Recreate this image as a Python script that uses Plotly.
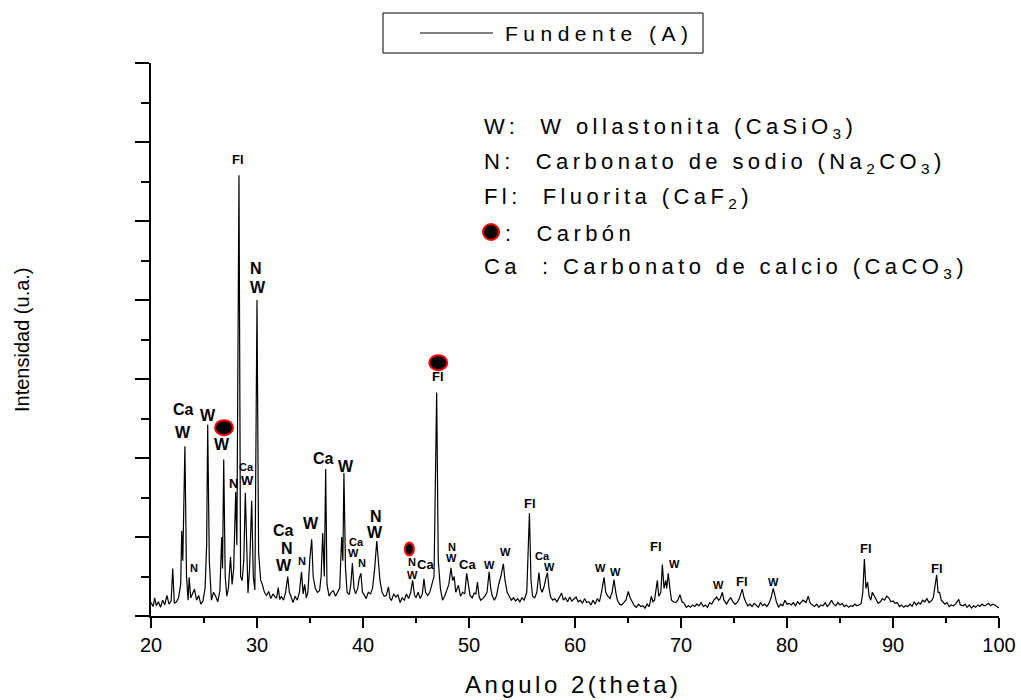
import plotly.graph_objects as go

# ---------------- data ----------------
series_name = "Fundente (A)"

two_theta = [
    20.0, 20.2, 20.35, 20.5, 20.7, 20.9, 21.1, 21.3, 21.5, 21.7, 21.9, 22.05, 22.2, 22.4, 22.6, 22.8,
    22.9, 23.0, 23.2, 23.35, 23.5, 23.6, 23.75, 23.9, 24.1, 24.3, 24.5, 24.7, 24.9, 25.1, 25.25, 25.35,
    25.5, 25.7, 25.9, 26.1, 26.3, 26.5, 26.67, 26.75, 26.86, 27.0, 27.15, 27.3, 27.5, 27.65, 27.8, 27.99,
    28.1, 28.3, 28.45, 28.6, 28.75, 28.9, 29.05, 29.15, 29.3, 29.5, 29.65, 29.8, 30.0, 30.15, 30.35, 30.5,
    30.7, 30.9, 31.1, 31.3, 31.5, 31.7, 31.85, 32.0, 32.15, 32.3, 32.5, 32.7, 32.9, 33.05, 33.2, 33.4,
    33.6, 33.8, 34.0, 34.2, 34.35, 34.5, 34.65, 34.8, 35.0, 35.16, 35.3, 35.5, 35.7, 35.9, 36.05, 36.2,
    36.35, 36.48, 36.6, 36.8, 37.0, 37.2, 37.4, 37.6, 37.8, 37.99, 38.1, 38.2, 38.35, 38.5, 38.7, 38.85,
    39.0, 39.15, 39.3, 39.5, 39.65, 39.8, 39.95, 40.1, 40.3, 40.5, 40.7, 40.9, 41.1, 41.3, 41.45, 41.6,
    41.8, 42.0, 42.2, 42.4, 42.55, 42.7, 42.9, 43.1, 43.3, 43.5, 43.7, 43.9, 44.1, 44.3, 44.5, 44.68,
    44.85, 45.0, 45.2, 45.4, 45.6, 45.75, 45.9, 46.1, 46.3, 46.45, 46.57, 46.7, 46.95, 47.1, 47.3, 47.5,
    47.7, 47.9, 48.1, 48.3, 48.45, 48.6, 48.75, 49.0, 49.2, 49.4, 49.6, 49.78, 49.95, 50.1, 50.3, 50.5,
    50.65, 50.8, 50.95, 51.1, 51.3, 51.5, 51.7, 51.9, 52.05, 52.2, 52.4, 52.6, 52.8, 53.0, 53.24, 53.4,
    53.6, 53.8, 54.0, 54.2, 54.4, 54.6, 54.8, 55.0, 55.2, 55.45, 55.7, 55.85, 56.0, 56.2, 56.4, 56.6,
    56.75, 56.9, 57.1, 57.25, 57.4, 57.55, 57.7, 57.9, 58.1, 58.3, 58.5, 58.74, 58.9, 59.1, 59.3, 59.5,
    59.7, 59.9, 60.1, 60.3, 60.5, 60.7, 60.9, 61.1, 61.3, 61.5, 61.7, 61.9, 62.1, 62.3, 62.5, 62.74,
    62.9, 63.1, 63.3, 63.5, 63.68, 63.85, 64.0, 64.2, 64.4, 64.6, 64.8, 65.03, 65.2, 65.4, 65.6, 65.8,
    66.0, 66.2, 66.4, 66.6, 66.8, 67.0, 67.2, 67.35, 67.5, 67.77, 67.9, 68.1, 68.24, 68.4, 68.56, 68.65,
    68.8, 68.95, 69.1, 69.3, 69.5, 69.7, 69.9, 70.1, 70.3, 70.5, 70.7, 70.9, 71.1, 71.3, 71.5, 71.7,
    71.9, 72.1, 72.3, 72.5, 72.7, 72.9, 73.1, 73.37, 73.55, 73.7, 73.9, 74.05, 74.3, 74.5, 74.7, 74.9,
    75.1, 75.3, 75.5, 75.78, 75.95, 76.1, 76.3, 76.5, 76.7, 76.9, 77.1, 77.3, 77.5, 77.7, 77.9, 78.1,
    78.3, 78.5, 78.7, 78.85, 79.0, 79.2, 79.4, 79.6, 79.8, 80.0, 80.2, 80.4, 80.6, 80.8, 81.0, 81.2,
    81.5, 81.8, 82.0, 82.2, 82.4, 82.6, 82.8, 83.0, 83.2, 83.4, 83.6, 83.8, 84.0, 84.2, 84.4, 84.6,
    84.8, 85.0, 85.2, 85.4, 85.6, 85.8, 86.0, 86.2, 86.4, 86.6, 86.8, 87.0, 87.15, 87.3, 87.45, 87.6,
    87.75, 87.9, 88.05, 88.2, 88.4, 88.6, 88.8, 89.0, 89.2, 89.4, 89.6, 89.8, 90.0, 90.2, 90.4, 90.6,
    90.8, 91.0, 91.2, 91.4, 91.6, 91.8, 92.0, 92.2, 92.4, 92.6, 92.8, 93.0, 93.2, 93.4, 93.6, 93.8,
    94.12, 94.25, 94.4, 94.55, 94.7, 94.9, 95.1, 95.3, 95.5, 95.7, 95.9, 96.2, 96.35, 96.6, 96.8, 97.0,
    97.2, 97.4, 97.6, 97.8, 98.0, 98.2, 98.4, 98.6, 98.8, 99.0, 99.2, 99.4, 99.6, 99.8, 100.0,
]

intensity = [
    170, 120, 230, 130, 180, 110, 200, 140, 260, 150, 190, 600, 160, 180, 230, 400,
    1080, 700, 2150, 500, 200, 490, 230, 280, 340, 200, 260, 150, 190, 350, 900, 2420,
    700, 200, 300, 250, 180, 320, 1000, 600, 1980, 500, 250, 350, 750, 400, 600, 1570,
    900, 5580, 500, 450, 700, 1560, 700, 290, 600, 1460, 500, 330, 4000, 800, 450, 400,
    300, 260, 310, 220, 280, 240, 230, 360, 210, 250, 200, 300, 500, 300, 250, 170,
    250, 200, 300, 560, 280, 400, 230, 300, 750, 970, 500, 350, 300, 320, 500, 1050,
    500, 1860, 400, 250, 300, 320, 250, 300, 350, 1000, 700, 1810, 600, 300, 270, 400,
    670, 350, 280, 350, 480, 540, 300, 270, 220, 300, 280, 350, 600, 950, 700, 450,
    300, 250, 260, 370, 220, 200, 280, 240, 270, 170, 230, 200, 280, 220, 300, 450,
    270, 230, 300, 220, 280, 470, 300, 260, 300, 380, 450, 500, 2830, 700, 350, 200,
    250, 320, 400, 610, 450, 500, 300, 390, 250, 300, 280, 540, 350, 260, 230, 290,
    280, 430, 250, 200, 220, 250, 300, 560, 350, 250, 200, 260, 400, 500, 660, 450,
    300, 250, 200, 230, 190, 220, 180, 230, 200, 300, 1300, 450, 250, 230, 300, 550,
    350, 300, 380, 480, 550, 350, 240, 200, 220, 180, 240, 290, 200, 230, 180, 240,
    190, 210, 240, 180, 200, 160, 220, 170, 180, 140, 200, 150, 220, 180, 300, 490,
    300, 250, 220, 300, 460, 300, 200, 150, 140, 170, 200, 310, 230, 180, 130, 110,
    150, 120, 130, 100, 150, 120, 250, 180, 200, 450, 250, 300, 650, 350, 450, 350,
    540, 350, 200, 180, 170, 200, 270, 180, 160, 110, 130, 110, 140, 120, 150, 130,
    170, 120, 140, 110, 170, 150, 200, 240, 200, 220, 300, 200, 150, 200, 230, 180,
    150, 170, 220, 340, 230, 180, 130, 150, 120, 160, 130, 110, 170, 130, 150, 120,
    160, 230, 350, 250, 180, 110, 150, 130, 200, 150, 160, 140, 170, 130, 180, 150,
    200, 170, 250, 160, 140, 120, 150, 110, 140, 130, 170, 120, 150, 200, 150, 130,
    170, 140, 160, 120, 140, 110, 130, 120, 150, 130, 140, 160, 300, 720, 350, 430,
    250, 200, 300, 260, 200, 160, 180, 220, 200, 250, 230, 180, 190, 160, 170, 120,
    140, 110, 130, 120, 150, 120, 180, 140, 170, 150, 200, 180, 220, 170, 190, 230,
    520, 300, 300, 200, 180, 150, 170, 120, 140, 130, 150, 210, 140, 130, 150, 110,
    140, 100, 130, 110, 140, 120, 150, 130, 140, 160, 130, 150, 140, 120, 100,
]

x_major_ticks = [20, 30, 40, 50, 60, 70, 80, 90, 100]
x_minor_ticks = [25, 35, 45, 55, 65, 75, 85, 95]

# phase labels placed over the peaks: (text, 2theta, intensity)
peak_labels_big = [
    ("Ca", 23.1, 2608), ("W", 23.0, 2317), ("W", 25.4, 2532), ("W", 26.67, 2165),
    ("N", 29.9, 4402), ("W", 30.09, 4161), ("Ca", 32.48, 1080), ("N", 32.8, 857),
    ("W", 32.55, 633), ("W", 35.07, 1173), ("Ca", 36.26, 1991), ("W", 38.4, 1890),
    ("N", 41.2, 1257), ("W", 41.16, 1060),
]
peak_labels_mid = [
    ("Fl", 28.24, 5773), ("N", 27.8, 1675), ("W", 29.09, 1713), ("Fl", 47.05, 3030),
    ("Fl", 55.75, 1418), ("Fl", 67.64, 877), ("Fl", 75.78, 443), ("Fl", 87.45, 857),
    ("Fl", 94.12, 604), ("Ca", 45.94, 654), ("Ca", 49.84, 646),
]
peak_labels_small = [
    ("N", 24.06, 612), ("Ca", 29.03, 1890), ("N", 34.2, 696), ("Ca", 39.4, 941),
    ("W", 39.15, 802), ("N", 39.88, 667), ("N", 44.6, 688), ("W", 44.66, 519),
    ("N", 48.37, 877), ("W", 48.37, 730), ("W", 51.92, 646), ("W", 53.49, 806),
    ("Ca", 56.89, 763), ("W", 57.58, 624), ("W", 62.42, 612), ("W", 63.84, 561),
    ("W", 69.43, 654), ("W", 73.52, 392), ("W", 78.71, 426),
]
carbon_marks = [(26.89, 2384, 18, 15), (47.1, 3207, 18, 15), (44.37, 848, 9, 13)]

phase_key = [
    "W:  W ollastonita (CaSiO<sub>3</sub>)",
    "N:  Carbonato de sodio (Na<sub>2</sub>CO<sub>3</sub>)",
    "Fl:  Fluorita (CaF<sub>2</sub>)",
    "  :  Carbón",
    "Ca  : Carbonato de calcio (CaCO<sub>3</sub>)",
]

x_title = "Angulo 2(theta)"
y_title = "Intensidad (u.a.)"

# ---------------- figure ----------------
FONT = "Arial, 'Liberation Sans', sans-serif"
W, H = 1021, 700
L, R, T, B = 151, 22, 63, 84
PW, PH = W - L - R, H - T - B


def px_to_paper_x(px):
    return (px - L) / PW


def px_to_paper_y(py):
    return (H - B - py) / PH


def spaced(text, sp):
    return f'<span style="letter-spacing:{sp}px">{text}</span>'


fig = go.Figure()
fig.add_trace(go.Scatter(
    x=two_theta, y=intensity, mode="lines",
    line=dict(color="black", width=1.2),
    name=series_name, showlegend=False,
))

annotations = []
for txt, xv, yv in peak_labels_big:
    annotations.append(dict(x=xv, y=yv, xref="x", yref="y", text=f"<b>{txt}</b>",
                            showarrow=False, font=dict(family=FONT, size=16, color="black")))
for txt, xv, yv in peak_labels_mid:
    annotations.append(dict(x=xv, y=yv, xref="x", yref="y", text=f"<b>{txt}</b>",
                            showarrow=False, font=dict(family=FONT, size=13, color="black")))
for txt, xv, yv in peak_labels_small:
    annotations.append(dict(x=xv, y=yv, xref="x", yref="y", text=f"<b>{txt}</b>",
                            showarrow=False, font=dict(family=FONT, size=11, color="black")))

key_y = [128, 163, 198, 234, 268]
for txt, py in zip(phase_key, key_y):
    annotations.append(dict(x=px_to_paper_x(482), y=px_to_paper_y(py), xref="paper", yref="paper",
                            xanchor="left", yanchor="middle", text=spaced(txt, 4.4),
                            showarrow=False, font=dict(family=FONT, size=22, color="black")))

# legend box (drawn by hand to match the reference proportions)
annotations.append(dict(x=px_to_paper_x(503), y=px_to_paper_y(33), xref="paper", yref="paper",
                        xanchor="left", yanchor="middle", text=spaced(series_name, 5.5),
                        showarrow=False, font=dict(family=FONT, size=21, color="black")))

annotations.append(dict(x=0.498, y=px_to_paper_y(684), xref="paper", yref="paper",
                        text=spaced(x_title, 3.5), showarrow=False,
                        xanchor="center", yanchor="middle",
                        font=dict(family=FONT, size=24, color="black")))
annotations.append(dict(x=px_to_paper_x(22), y=px_to_paper_y(340), xref="paper", yref="paper",
                        text=y_title, showarrow=False, textangle=-90,
                        xanchor="center", yanchor="middle",
                        font=dict(family=FONT, size=20, color="black")))

shapes = []
for xv, yv, wpx, hpx in carbon_marks:
    shapes.append(dict(type="circle", xref="x", yref="y", xsizemode="pixel", ysizemode="pixel",
                       xanchor=xv, yanchor=yv, x0=-wpx / 2, x1=wpx / 2, y0=-hpx / 2, y1=hpx / 2,
                       fillcolor="black", line=dict(color="red", width=2)))
shapes.append(dict(type="circle", xref="paper", yref="paper", xsizemode="pixel", ysizemode="pixel",
                   xanchor=px_to_paper_x(491), yanchor=px_to_paper_y(232),
                   x0=-8, x1=8, y0=-8, y1=8,
                   fillcolor="black", line=dict(color="red", width=2)))
shapes.append(dict(type="rect", xref="paper", yref="paper",
                   x0=px_to_paper_x(383), x1=px_to_paper_x(703),
                   y0=px_to_paper_y(53), y1=px_to_paper_y(13),
                   line=dict(color="black", width=1), fillcolor="rgba(0,0,0,0)"))
shapes.append(dict(type="line", xref="paper", yref="paper",
                   x0=px_to_paper_x(420), x1=px_to_paper_x(493),
                   y0=px_to_paper_y(33), y1=px_to_paper_y(33),
                   line=dict(color="black", width=1.2)))
# x tick marks below the axis line, placed at the axis tick values
for tv, tlen in [(v, 10) for v in x_major_ticks] + [(v, 6) for v in x_minor_ticks]:
    shapes.append(dict(type="line", xref="x", yref="paper", x0=tv, x1=tv,
                       y0=-1.0 / PH, y1=-(1.0 + tlen) / PH,
                       line=dict(color="black", width=2)))

fig.update_layout(
    width=W, height=H,
    margin=dict(l=L, r=R, t=T, b=B, autoexpand=False),
    paper_bgcolor="white", plot_bgcolor="white",
    font=dict(family=FONT, color="black"),
    showlegend=False,
    annotations=annotations,
    shapes=shapes,
    xaxis=dict(range=[20, 100], showline=True, linecolor="black", linewidth=2,
               ticks="outside", ticklen=10, tickwidth=2, tickcolor="black",
               tickmode="array", tickvals=x_major_ticks,
               ticktext=[str(v) for v in x_major_ticks],
               tickfont=dict(family=FONT, size=20, color="black"),
               showgrid=False, zeroline=False),
    yaxis=dict(range=[0, 7000], showline=True, linecolor="black", linewidth=2,
               ticks="outside", ticklen=14, tickwidth=2, tickcolor="black",
               tick0=0, dtick=1000, showticklabels=False,
               minor=dict(dtick=500, ticks="outside", ticklen=8, tickwidth=2, tickcolor="black"),
               showgrid=False, zeroline=False),
)

fig.write_html("out.html", config={"staticPlot": True})
